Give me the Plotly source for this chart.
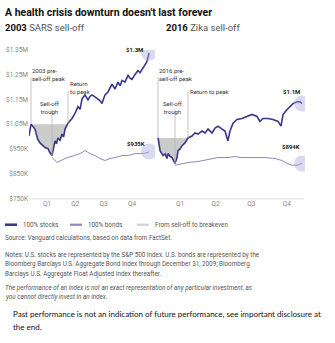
import plotly.graph_objects as go

W, H = 335, 343

# ---------------- data (months from Jan 1 of the year; values in $K) ----------------
sars_months = [-0.41, -0.19, 0.23, 0.50, 0.76, 1.05, 1.29, 1.61, 1.80, 2.03, 2.20, 2.35, 2.50, 2.66, 2.88,
               3.09, 3.25, 3.41, 3.72, 3.95, 4.15, 4.46, 4.78, 5.00, 5.21, 5.52, 5.70, 5.84, 6.05, 6.26,
               6.58, 6.90, 7.10, 7.32, 7.64, 7.96, 8.15, 8.38, 8.70, 9.02, 9.25, 9.44, 9.76, 10.08,
               10.30, 10.50, 10.82, 11.14, 11.35, 11.56, 11.88, 12.05, 12.19, 12.30]
sars_stocks = [1002, 1050, 1030, 990, 974, 965, 955, 951, 935, 923, 962, 982, 970, 994, 985,
               1010, 998, 1030, 1054, 1062, 1073, 1093, 1121, 1110, 1152, 1168, 1155, 1148, 1162, 1168,
               1160, 1152, 1145, 1133, 1168, 1180, 1195, 1212, 1192, 1220, 1205, 1227, 1220, 1247,
               1236, 1231, 1251, 1267, 1258, 1271, 1291, 1300, 1318, 1338]
sars_bond_months = [2.03, 2.14, 2.35, 2.56, 2.80, 3.09, 3.40, 3.72, 4.10, 4.46, 4.85, 5.21, 5.52, 5.80,
                    6.05, 6.58, 7.11, 7.64, 8.17, 8.70, 9.44, 10.08, 10.82, 11.56, 12.19, 12.30]
sars_bonds = [915, 911, 905, 895, 900, 907, 911, 915, 919, 923, 929, 935, 943, 937,
              931, 923, 911, 903, 911, 915, 923, 923, 931, 931, 935, 939]

zika_months = [-0.35, -0.18, 0.07, 0.25, 0.40, 0.49, 0.65, 0.83, 1.08, 1.25, 1.33, 1.50, 1.67, 1.92,
               2.17, 2.51, 2.76, 3.02, 3.35, 3.61, 3.86, 4.20, 4.45, 4.70, 5.04, 5.29, 5.54, 5.71,
               5.97, 6.30, 6.72, 7.14, 7.57, 7.99, 8.24, 8.49, 8.91, 9.34, 9.76, 10.01, 10.18, 10.52,
               10.77, 11.02, 11.36, 11.61, 11.78]
zika_stocks = [994, 943, 923, 930, 911, 931, 920, 915, 891, 915, 943, 950, 963, 974,
               994, 1002, 1014, 1010, 1022, 1014, 1030, 1014, 1034, 1042, 1030, 1022, 982, 1022,
               1054, 1069, 1073, 1081, 1089, 1081, 1061, 1073, 1073, 1069, 1061, 1042, 1089, 1109,
               1121, 1133, 1140, 1140, 1133]
zika_bond_months = [1.08, 1.67, 2.17, 3.02, 3.86, 4.70, 5.54, 6.13, 6.72, 7.23, 7.82, 8.66, 9.50,
                    10.09, 10.52, 10.94, 11.36, 11.78]
zika_bonds = [884, 891, 895, 899, 907, 915, 915, 919, 915, 915, 915, 915, 911,
              903, 891, 884, 884, 891]

end_labels_sars = ["$1.3M", "$935K"]
end_labels_zika = ["$1.1M", "$894K"]

quarter_ticks = [1.5, 4.5, 7.5, 10.5]
quarter_labels = ["Q1", "Q2", "Q3", "Q4"]
y_ticks = [750, 850, 950, 1050, 1150, 1250, 1350]
y_labels = ["$750K", "$850K", "$950K", "$1.05M", "$1.15M", "$1.25M", "$1.35M"]

# ---------------- styles ----------------
FONT = "Roboto"
STOCK_C = "#3a378a"
BOND_C = "#8e8aba"
SHADE_C = "rgba(185,185,185,0.75)"
CIRCLE_C = "rgba(175,170,220,0.45)"
GUIDE_C = "#b5b5b5"

def px(x):
    return x / W

def py(y):
    return 1 - y / H

# y pixel -> value on the shared y axis (for label placement)
def yval(ypix):
    return 1350 - (ypix - 47) * 600 / 152.0

fig = go.Figure()

def key_points(months, vals):
    trough = vals.index(min(vals))
    peak = max(range(trough), key=lambda i: vals[i])
    ret = next(i for i in range(trough, len(vals)) if vals[i] >= vals[peak])
    return peak, trough, ret

panels = [
    dict(xa="x", m=sars_months, s=sars_stocks, bm=sars_bond_months, b=sars_bonds,
         labels=end_labels_sars, peak_text="2003 pre-<br>sell-off peak",
         peak_top=62, trough_top=96, ret_top=76, ret_text="Return<br>to peak",
         lab_shift=[(-4, 3), (-2, 8)]),
    dict(xa="x2", m=zika_months, s=zika_stocks, bm=zika_bond_months, b=zika_bonds,
         labels=end_labels_zika, peak_text="2016 pre-<br>sell-off peak",
         peak_top=62, trough_top=96, ret_top=84, ret_text="Return to peak",
         lab_shift=[(0, 12), (0, 17)]),
]

shapes = []
annotations = []

for p in panels:
    m, s = p["m"], p["s"]
    pk, tr, rt = key_points(m, s)
    # shaded drawdown area
    seg_x = m[pk:rt + 1]
    seg_y = s[pk:rt + 1]
    fig.add_trace(go.Scatter(x=seg_x + seg_x[::-1], y=seg_y + [s[pk]] * len(seg_x),
                             fill="toself", fillcolor=SHADE_C, mode="none",
                             xaxis=p["xa"], yaxis="y", showlegend=False, hoverinfo="skip"))
    # guide lines
    ret_gap = 13 if "<br>" in p["ret_text"] else 6
    for idx, top in [(pk, p["peak_top"] + 13), (tr, p["trough_top"] + 12), (rt, p["ret_top"] + ret_gap)]:
        shapes.append(dict(type="line", xref=p["xa"], yref="y", x0=m[idx], x1=m[idx],
                           y0=s[idx], y1=yval(top), line=dict(color=GUIDE_C, width=0.8)))
    annotations.append(dict(xref=p["xa"], yref="y", x=m[pk], y=yval(p["peak_top"]), text=p["peak_text"],
                            showarrow=False, xanchor="left", yanchor="top", align="left", xshift=-1,
                            font=dict(family=FONT, size=6, color="#333")))
    annotations.append(dict(xref=p["xa"], yref="y", x=m[tr], y=yval(p["trough_top"]), text="Sell-off<br>trough",
                            showarrow=False, xanchor="center", yanchor="top", align="center", xshift=-2,
                            font=dict(family=FONT, size=6, color="#333")))
    annotations.append(dict(xref=p["xa"], yref="y", x=m[rt], y=yval(p["ret_top"]), text=p["ret_text"],
                            showarrow=False, xanchor="left", yanchor="top", align="left", xshift=0,
                            font=dict(family=FONT, size=6, color="#333")))
    # bonds and stocks
    fig.add_trace(go.Scatter(x=p["bm"], y=p["b"], mode="lines", line=dict(color=BOND_C, width=1),
                             xaxis=p["xa"], yaxis="y", showlegend=False))
    fig.add_trace(go.Scatter(x=m, y=s, mode="lines", line=dict(color=STOCK_C, width=1.6),
                             xaxis=p["xa"], yaxis="y", showlegend=False))
    # end circles
    fig.add_trace(go.Scatter(x=[m[-1], p["bm"][-1]], y=[s[-1], p["b"][-1]], mode="markers",
                             marker=dict(size=16, color=CIRCLE_C, line=dict(width=0)),
                             xaxis=p["xa"], yaxis="y", showlegend=False))
    for (xv, yv), lab, (dx, dy) in zip([(m[-1], s[-1]), (p["bm"][-1], p["b"][-1])], p["labels"], p["lab_shift"]):
        annotations.append(dict(xref=p["xa"], yref="y", x=xv, y=yv, text="<b>" + lab + "</b>",
                                showarrow=False, xanchor="right", yanchor="middle", xshift=dx,
                                yshift=dy, font=dict(family=FONT, size=6, color="#222")))

# x-axis baseline
shapes.append(dict(type="line", xref="paper", yref="paper", x0=px(29), x1=px(304), y0=py(199.5), y1=py(199.5),
                   line=dict(color="#dcdcdc", width=1)))

# ---------------- titles ----------------
annotations.append(dict(xref="paper", yref="paper", x=px(3), y=py(9), xanchor="left", yanchor="middle",
                        text="<b>A health crisis downturn doesn't last forever</b>", showarrow=False,
                        font=dict(family=FONT, size=10.5, color="#111")))
for xpos, yr, nm in [(3, "2003", "SARS sell-off"), (164, "2016", "Zika sell-off")]:
    annotations.append(dict(xref="paper", yref="paper", x=px(xpos), y=py(24), xanchor="left", yanchor="middle",
                            text="<b>" + yr + "</b> <span style='color:#555'>" + nm + "</span>", showarrow=False,
                            font=dict(family=FONT, size=9.5, color="#111")))

# ---------------- legend (manual) ----------------
legend_items = [("100% stocks", STOCK_C, 2.6, 5), ("100% bonds", BOND_C, 2.2, 70), ("From sell-off to breakeven", "#d2d2d2", 2.2, 137)]
for name, col, wid, x0 in legend_items:
    shapes.append(dict(type="line", xref="paper", yref="paper", x0=px(x0), x1=px(x0 + 12), y0=py(226), y1=py(226),
                       line=dict(color=col, width=wid)))
    annotations.append(dict(xref="paper", yref="paper", x=px(x0 + 16), y=py(226), xanchor="left", yanchor="middle",
                            text=name, showarrow=False, font=dict(family=FONT, size=6.3, color="#555")))

# ---------------- footnotes ----------------
foot = [
    ("Source: Vanguard calculations, based on data from FactSet.", 239.5, False),
    ("Notes: U.S. stocks are represented by the S&P 500 Index. U.S. bonds are represented by the", 256.5, False),
    ("Bloomberg Barclays U.S. Aggregate Bond Index through December 31, 2009; Bloomberg", 266.5, False),
    ("Barclays U.S. Aggregate Float Adjusted Index thereafter.", 276.5, False),
    ("The performance of an index is not an exact representation of any particular investment, as", 290.5, True),
    ("you cannot directly invest in an index.", 300.5, True),
]
for txt, yy, it in foot:
    t = "<i>" + txt + "</i>" if it else txt
    annotations.append(dict(xref="paper", yref="paper", x=px(3), y=py(yy), xanchor="left", yanchor="middle",
                            text=t, showarrow=False, font=dict(family=FONT, size=6.3, color="#555")))
for txt, yy in [("Past performance is not an indication of future performance, see important disclosure at", 317),
                ("the end.", 331)]:
    annotations.append(dict(xref="paper", yref="paper", x=px(11), y=py(yy), xanchor="left", yanchor="middle",
                            text=txt, showarrow=False, font=dict(family="Lato", size=8, color="#111")))

fig.update_layout(
    width=W, height=H, margin=dict(l=0, r=0, t=0, b=0),
    paper_bgcolor="white", plot_bgcolor="white",
    showlegend=False,
    xaxis=dict(domain=[px(29), px(155)], range=[-0.406, 12.935], tickvals=quarter_ticks, ticktext=quarter_labels,
               showgrid=False, zeroline=False, showline=False, ticks="", anchor="y",
               tickfont=dict(family=FONT, size=6.5, color="#888")),
    xaxis2=dict(domain=[px(157), px(305)], range=[-0.438, 12.03], tickvals=quarter_ticks, ticktext=quarter_labels,
                showgrid=False, zeroline=False, showline=False, ticks="", anchor="y",
                tickfont=dict(family=FONT, size=6.5, color="#888")),
    yaxis=dict(domain=[py(199), py(47)], range=[750, 1350], tickvals=y_ticks, ticktext=y_labels,
               showgrid=False, zeroline=False, showline=False, ticks="",
               tickfont=dict(family=FONT, size=6.5, color="#888")),
    shapes=shapes, annotations=annotations,
)

fig.write_html("out.html")
